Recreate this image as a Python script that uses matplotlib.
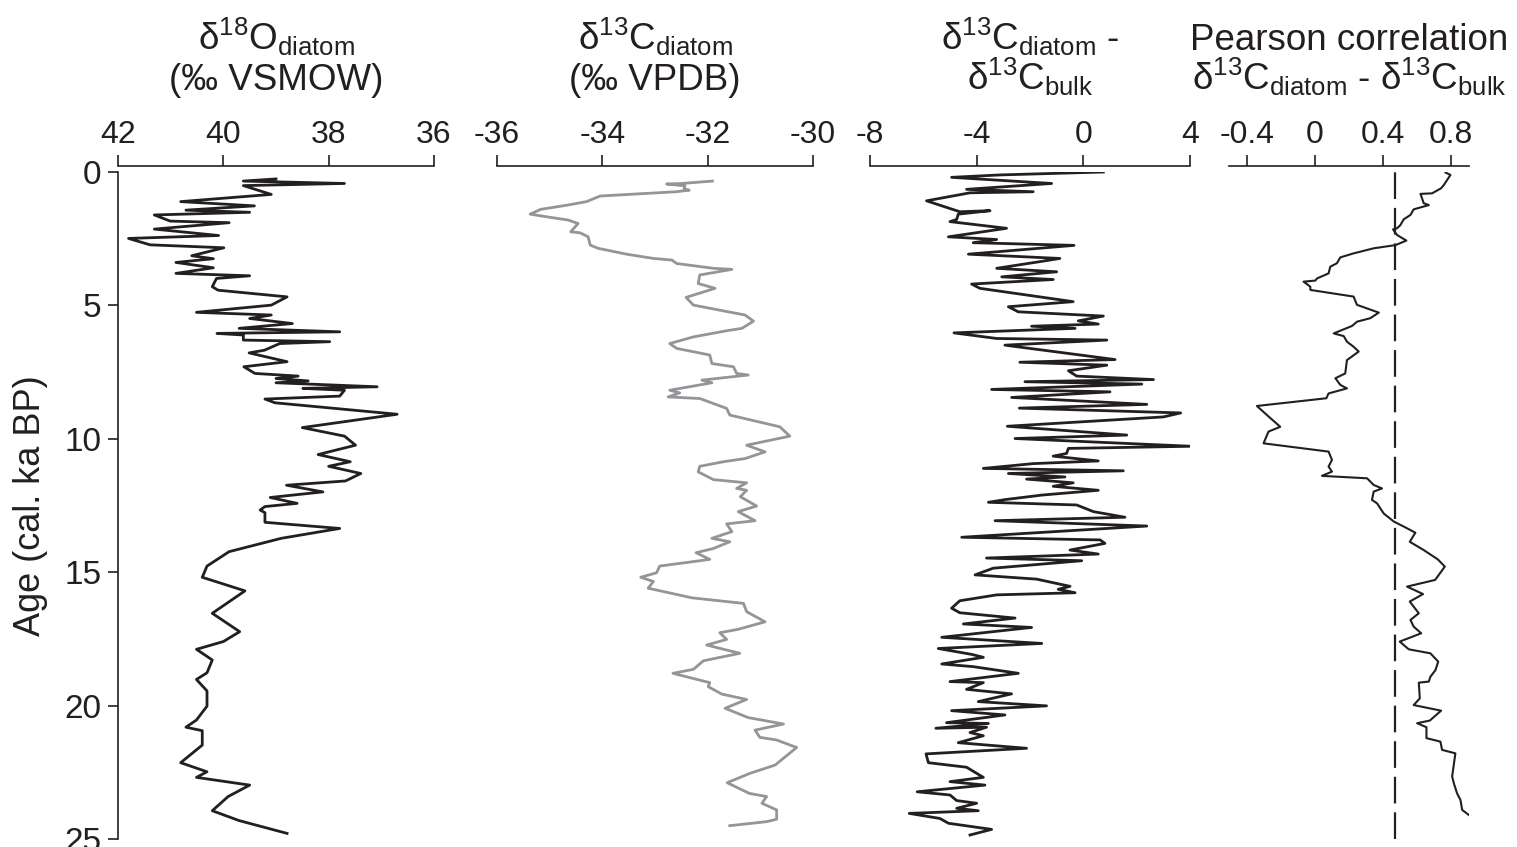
import numpy as np
import matplotlib
matplotlib.use("Agg")
import matplotlib.pyplot as plt
import matplotlib.transforms as mtransforms

# ======================================
# DATA
# ======================================

# d18O diatom (permil VSMOW)
age_d18o = [0.26, 0.34, 0.43, 0.51, 0.84, 1.11, 1.27, 1.43, 1.51, 1.61, 1.84, 1.90,
            2.14, 2.38, 2.49, 2.73, 2.84, 3.14, 3.25, 3.39, 3.59, 3.80, 3.89, 3.99,
            4.30, 4.43, 4.68, 4.99, 5.26, 5.36, 5.49, 5.68, 5.86, 5.99, 6.05, 6.11,
            6.30, 6.36, 6.43, 6.68, 6.78, 7.11, 7.30, 7.55, 7.65, 7.74, 7.83, 7.90,
            8.05, 8.11, 8.18, 8.40, 8.51, 8.65, 9.08, 9.58, 9.90, 10.24, 10.59, 10.86,
            11.03, 11.30, 11.58, 11.74, 11.99, 12.20, 12.42, 12.54, 12.67, 12.77, 13.13,
            13.36, 13.73, 14.23, 14.77, 15.19, 15.70, 16.54, 17.23, 17.60, 17.89, 18.29,
            18.77, 19.02, 19.45, 20.02, 20.54, 20.81, 20.94, 21.48, 22.14, 22.48, 22.69,
            22.98, 23.41, 23.94, 24.31, 24.79]
d18o = [39.00, 39.62, 37.70, 39.62, 39.09, 40.81, 39.41, 40.71, 39.50, 41.31, 41.01, 39.89,
        41.31, 40.09, 41.80, 41.39, 39.99, 40.60, 40.19, 40.90, 40.19, 40.90, 39.50, 40.13,
        40.21, 40.10, 38.79, 39.09, 40.51, 39.09, 39.50, 38.69, 39.70, 37.79, 40.12, 39.62,
        39.62, 37.98, 38.93, 39.22, 39.51, 38.79, 39.61, 39.40, 38.58, 39.00, 38.39, 39.00,
        37.08, 38.49, 37.70, 37.79, 39.21, 39.02, 36.70, 38.50, 37.70, 37.49, 38.20, 37.59,
        38.00, 37.39, 37.68, 38.80, 38.11, 39.11, 38.60, 39.21, 39.30, 39.21, 39.21,
        37.79, 38.90, 39.89, 40.31, 40.40, 39.59, 40.21, 39.69, 40.00, 40.51, 40.21,
        40.31, 40.51, 40.31, 40.31, 40.51, 40.71, 40.40, 40.40, 40.81, 40.31, 40.51,
        39.50, 39.91, 40.21, 39.70, 38.79]

# d13C diatom (permil VPDB)
age_d13c = [0.34, 0.43, 0.45, 0.52, 0.63, 0.68, 0.74, 0.90, 1.11, 1.24, 1.40, 1.58, 1.70,
            1.80, 1.93, 2.24, 2.28, 2.43, 2.74, 2.86, 3.08, 3.24, 3.30, 3.43, 3.61, 3.65,
            3.86, 4.18, 4.36, 4.70, 4.99, 5.36, 5.59, 5.86, 5.95, 6.18, 6.43, 6.61, 6.86,
            7.18, 7.30, 7.55, 7.61, 7.80, 7.90, 8.18, 8.28, 8.43, 8.49, 8.86, 9.11, 9.55,
            9.90, 10.24, 10.49, 10.74, 10.86, 11.03, 11.24, 11.53, 11.65, 11.86, 11.93,
            12.17, 12.52, 12.73, 13.07, 13.19, 13.48, 13.73, 13.86, 14.11, 14.27, 14.52,
            14.77, 15.02, 15.19, 15.35, 15.60, 15.96, 16.17, 16.48, 16.86, 17.14, 17.27,
            17.52, 17.73, 18.04, 18.32, 18.64, 18.79, 19.14, 19.29, 19.57, 19.77, 20.10,
            20.45, 20.69, 20.92, 21.19, 21.29, 21.57, 22.23, 22.54, 22.89, 23.29, 23.41,
            23.66, 23.91, 24.26, 24.35, 24.50]
d13c = [-31.91, -32.49, -32.78, -32.43, -32.45, -32.35, -32.60, -34.04, -34.30, -34.66,
        -35.17, -35.37, -34.99, -34.65, -34.46, -34.60, -34.42, -34.27, -34.23, -34.08,
        -33.54, -33.03, -32.68, -32.59, -31.89, -31.54, -32.15, -32.18, -31.86, -32.41,
        -32.27, -31.29, -31.13, -31.35, -31.64, -32.27, -32.72, -32.59, -31.96, -31.92,
        -31.51, -31.45, -31.23, -32.11, -31.92, -32.72, -32.53, -32.75, -32.15, -31.64,
        -31.58, -30.63, -30.44, -31.26, -30.91, -31.29, -31.70, -32.15, -32.18, -31.89,
        -31.26, -31.45, -31.26, -31.38, -31.07, -31.42, -31.10, -31.64, -31.54, -31.92,
        -31.58, -31.89, -32.22, -31.96, -32.91, -32.97, -33.27, -33.03, -33.13, -32.30,
        -31.32, -31.26, -30.91, -31.42, -31.77, -31.64, -32.02, -31.39, -32.08, -32.27,
        -32.66, -31.96, -31.99, -31.73, -31.26, -31.67, -31.23, -30.56, -31.10, -31.01,
        -30.69, -30.31, -30.72, -31.20, -31.63, -31.21, -30.88, -30.97, -30.69, -30.69,
        -30.88, -31.58]

# d13C diatom - d13C bulk
age_diff = [0.00, 0.11, 0.20, 0.43, 0.65, 0.74, 0.78, 1.08, 1.49, 1.45, 1.58, 1.78, 1.86,
            2.11, 2.43, 2.53, 2.65, 2.75, 3.08, 3.24, 3.36, 3.61, 3.74, 3.93, 4.03, 4.20,
            4.36, 4.86, 5.05, 5.24, 5.40, 5.58, 5.70, 5.78, 5.86, 6.03, 6.24, 6.30, 6.49,
            7.03, 7.13, 7.24, 7.45, 7.65, 7.78, 7.86, 7.95, 8.15, 8.24, 8.45, 8.71, 8.85,
            9.03, 9.18, 9.53, 9.86, 9.99, 10.28, 10.36, 10.55, 10.65, 10.83, 10.93, 11.11,
            11.20, 11.30, 11.43, 11.51, 11.65, 11.78, 11.93, 12.11, 12.28, 12.38, 12.48,
            12.73, 12.94, 13.07, 13.27, 13.69, 13.79, 13.92, 14.17, 14.32, 14.47, 14.57,
            14.85, 15.10, 15.26, 15.53, 15.64, 15.77, 15.85, 16.07, 16.35, 16.52, 16.72,
            16.94, 17.07, 17.44, 17.67, 17.86, 18.08, 18.19, 18.44, 18.54, 18.79, 19.10,
            19.14, 19.39, 19.56, 19.85, 20.01, 20.19, 20.35, 20.64, 20.67, 20.85, 20.81,
            21.01, 21.13, 21.39, 21.60, 21.81, 22.14, 22.31, 22.69, 22.85, 22.98, 23.23,
            23.35, 23.56, 23.66, 23.85, 23.94, 24.04, 24.23, 24.41, 24.64, 24.85]
diff = [0.75, -3.13, -4.94, -1.19, -4.38, -1.88, -4.25, -5.88, -4.63, -3.50, -4.69, -4.75,
        -5.00, -2.88, -5.06, -3.25, -4.13, -0.35, -4.31, -0.88, -1.63, -3.25, -1.00, -3.06,
        -1.13, -4.19, -3.88, -0.38, -2.81, -2.44, 0.75, -0.19, 0.56, -1.94, -0.31, -4.85,
        -3.25, 0.88, -2.94, 1.19, -2.38, 0.88, -0.56, -0.25, 2.63, -2.19, 2.19, -3.44,
        1.00, -2.69, 2.38, -2.40, 3.65, 3.00, -2.85, 1.63, -2.56, 4.04, -0.56, -0.63,
        -1.13, 0.56, -1.88, -3.75, 1.50, -2.81, -0.69, -2.13, -0.38, -1.13, 0.56, -1.56,
        -2.94, -3.56, -0.25, 0.38, 1.56, -3.31, 2.38, -4.56, 0.63, 0.81, -0.50, 0.56,
        -3.63, -0.06, -3.38, -4.06, -1.75, -0.50, -0.94, -0.31, -3.25, -4.63, -4.94,
        -4.63, -2.56, -4.50, -1.94, -5.31, -1.56, -5.44, -4.19, -3.75, -5.31, -4.13,
        -2.44, -5.00, -3.75, -4.38, -2.69, -3.94, -1.38, -4.94, -2.94, -5.13, -3.56,
        -5.53, -3.63, -4.25, -3.75, -4.69, -2.13, -5.90, -5.81, -4.38, -3.75, -5.00,
        -3.69, -6.23, -5.00, -4.75, -4.00, -4.75, -3.94, -6.53, -5.38, -5.06, -3.44, -4.25]

# Pearson correlation d13C diatom - d13C bulk
age_r = [0.02, 0.11, 0.49, 0.61, 0.80, 0.82, 1.17, 1.24, 1.40, 1.61, 1.77, 1.99, 2.11,
         2.15, 2.36, 2.57, 2.74, 2.86, 3.05, 3.20, 3.42, 3.55, 3.80, 3.99, 4.07, 4.11,
         4.30, 4.42, 4.67, 4.98, 5.27, 5.48, 5.61, 5.77, 6.05, 6.15, 6.36, 6.55, 6.73,
         7.05, 7.55, 7.73, 7.98, 8.11, 8.30, 8.48, 8.77, 9.11, 9.55, 9.73, 10.17, 10.48,
         10.79, 11.04, 11.23, 11.39, 11.48, 11.73, 11.86, 11.98, 12.29, 12.42, 12.80,
         13.10, 13.32, 13.52, 13.86, 14.17, 14.52, 14.79, 15.29, 15.54, 15.82, 16.10,
         16.54, 16.79, 17.04, 17.29, 17.60, 17.89, 18.04, 18.35, 18.67, 18.92, 19.10,
         19.14, 19.73, 19.98, 20.19, 20.56, 20.66, 20.81, 21.22, 21.35, 21.66, 21.79,
         22.66, 22.91, 23.29, 23.54, 23.91, 24.10]
r = [0.767, 0.796, 0.757, 0.741, 0.688, 0.620, 0.639, 0.669, 0.580, 0.561, 0.522, 0.502,
     0.482, 0.459, 0.482, 0.537, 0.473, 0.345, 0.227, 0.149, 0.129, 0.090, 0.080, 0.012,
     0.002, -0.067, -0.027, -0.027, 0.227, 0.247, 0.375, 0.325, 0.247, 0.218, 0.110, 0.169,
     0.188, 0.227, 0.257, 0.188, 0.178, 0.120, 0.149, 0.188, 0.080, 0.067, -0.341, -0.282,
     -0.204, -0.273, -0.302, 0.080, 0.100, 0.080, 0.100, 0.041, 0.306, 0.345, 0.394,
     0.345, 0.335, 0.365, 0.404, 0.463, 0.531, 0.590, 0.557, 0.639, 0.722, 0.763, 0.706,
     0.541, 0.635, 0.557, 0.610, 0.561, 0.580, 0.624, 0.498, 0.551, 0.678, 0.724, 0.708,
     0.678, 0.669, 0.610, 0.616, 0.580, 0.741, 0.675, 0.600, 0.655, 0.655, 0.737, 0.747,
     0.825, 0.806, 0.816, 0.835, 0.855, 0.865, 0.904]

R_CRIT = 0.47

TITLES = [
    ("δ$^{18}$O$_{diatom}$", "(‰ VSMOW)"),
    ("δ$^{13}$C$_{diatom}$", "(‰ VPDB)"),
    ("δ$^{13}$C$_{diatom}$ -", "δ$^{13}$C$_{bulk}$"),
    ("Pearson correlation", "δ$^{13}$C$_{diatom}$ - δ$^{13}$C$_{bulk}$"),
]

# ======================================
# STYLE
# ======================================

INK = "#231f20"
GREY = "#939598"
plt.rcParams["font.family"] = ["Liberation Sans", "DejaVu Sans"]
plt.rcParams["mathtext.fontset"] = "custom"
plt.rcParams["mathtext.rm"] = "Liberation Sans"
plt.rcParams["mathtext.it"] = "Liberation Sans"
plt.rcParams["mathtext.default"] = "regular"

TITLE_FS = 26.5
XTICK_FS = 23
YTICK_FS = 24
YLAB_FS = 26

W, H = 1517, 847
fig = plt.figure(figsize=(W / 100, H / 100), dpi=100)

# panel positions in pixels: (left, right)
panels = [(118, 434), (497, 813), (870, 1190), (1229, 1469)]
y_top, y_bot = 172, 839

axes = []
for (l, rgt) in panels:
    ax = fig.add_axes([l / W, 1 - y_bot / H, (rgt - l) / W, (y_bot - y_top) / H])
    ax.set_ylim(25, 0)
    ax.patch.set_visible(False)
    for s in ["right", "bottom", "left"]:
        ax.spines[s].set_visible(False)
    ax.spines["top"].set_position(("outward", 4))
    ax.spines["top"].set_linewidth(1.2)
    ax.spines["top"].set_color(INK)
    ax.xaxis.tick_top()
    ax.tick_params(axis="x", direction="out", length=8, width=1.2, color=INK,
                   labelcolor=INK, labelsize=XTICK_FS, pad=4)
    ax.tick_params(axis="y", left=False, labelleft=False)
    axes.append(ax)

ax1, ax2, ax3, ax4 = axes

# y axis only on first panel
ax1.spines["left"].set_visible(True)
ax1.spines["left"].set_linewidth(1.2)
ax1.spines["left"].set_color(INK)
ax1.spines["left"].set_bounds(0, 25)
ax1.tick_params(axis="y", left=True, labelleft=True, direction="out", length=7,
                width=1.2, color=INK, labelcolor=INK, labelsize=YTICK_FS, pad=5)
ax1.set_yticks([0, 5, 10, 15, 20, 25])
fig.text(30 / W, 1 - (y_top + y_bot) / 2 / H, "Age (cal. ka BP)", rotation=90,
         ha="center", va="center", fontsize=YLAB_FS, color=INK)

# ======================================
# PLOTS
# ======================================

ax1.plot(d18o, age_d18o, color=INK, lw=2.0)
ax1.set_xlim(42, 36)
ax1.set_xticks([42, 40, 38, 36])

ax2.plot(d13c, age_d13c, color=GREY, lw=2.0)
ax2.set_xlim(-36, -30)
ax2.set_xticks([-36, -34, -32, -30])

ax3.plot(diff, age_diff, color=INK, lw=2.0)
ax3.set_xlim(-8, 4)
ax3.set_xticks([-8, -4, 0, 4])

ax4.plot(r, age_r, color=INK, lw=1.5)
ax4.axvline(R_CRIT, ymin=0, ymax=1.0, color=INK, lw=1.6, dashes=(12, 4))
ax4.set_xlim(-0.505, 0.905)
ax4.set_xticks([-0.4, 0, 0.4, 0.8])

for ax in axes:
    ax.set_xticklabels(["%g" % v for v in ax.get_xticks()])

# titles
for ax, (line1, line2) in zip(axes, TITLES):
    tr = mtransforms.blended_transform_factory(ax.transAxes, fig.transFigure)
    ax.text(0.5, 1 - 50 / H, line1, transform=tr, ha="center", va="baseline",
            fontsize=TITLE_FS, color=INK)
    ax.text(0.5, 1 - 90 / H, line2, transform=tr, ha="center", va="baseline",
            fontsize=TITLE_FS, color=INK)

fig.savefig("out.png", dpi=100)
